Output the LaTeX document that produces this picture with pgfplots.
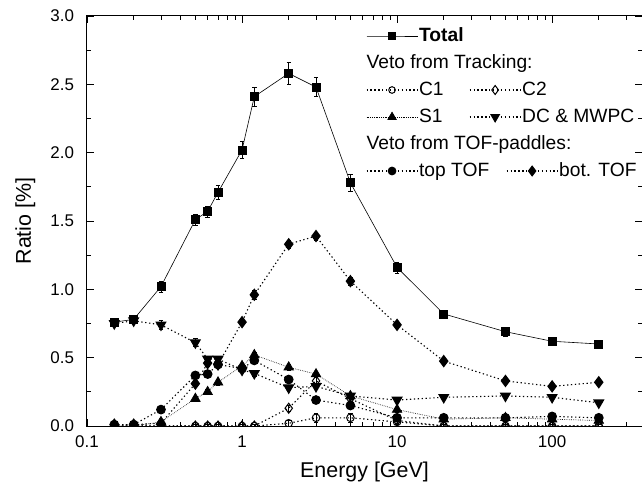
\documentclass[border=0pt]{standalone}
\usepackage{fontspec}
\setmainfont{Liberation Sans}
\usepackage{pgfplots}
\pgfplotsset{compat=1.18}
\usepackage{pgfplotstable}

\newcommand\legfont{\fontsize{19.3}{23}\selectfont}
\newcommand\tickfont{\fontsize{17}{20}\selectfont}
\newcommand\labfont{\fontsize{21.5}{25}\selectfont}

\pgfplotstableread{
x y e
0.15 0.76 0.03
0.2 0.78 0.03
0.3 1.02 0.04
0.5 1.51 0.04
0.6 1.57 0.04
0.7 1.71 0.05
1.0 2.02 0.06
1.2 2.41 0.07
2 2.58 0.08
3 2.48 0.07
5 1.78 0.06
10 1.16 0.04
20 0.82 0.03
50 0.69 0.03
100 0.62 0.02
200 0.60 0.02
}\tabTotal

\pgfplotstableread{
x y e
0.15 0.0 0.01
0.2 0.0 0.01
0.3 0.0 0.01
0.5 0.0 0.01
0.6 0.0 0.01
0.7 0.0 0.01
1.0 0.0 0.01
1.2 0.0 0.01
2 0.02 0.02
3 0.06 0.03
5 0.06 0.03
10 0.03 0.02
20 0.0 0.01
50 0.0 0.01
100 0.0 0.01
200 0.0 0.01
}\tabCone

\pgfplotstableread{
x y e
0.15 0.0 0.01
0.2 0.0 0.01
0.3 0.0 0.01
0.5 0.0 0.01
0.6 0.0 0.01
0.7 0.0 0.01
1.0 0.0 0.01
1.2 0.0 0.01
2 0.13 0.02
3 0.33 0.03
5 0.20 0.02
10 0.04 0.02
20 0.0 0.01
50 0.0 0.01
100 0.0 0.01
200 0.0 0.01
}\tabCtwo

\pgfplotstableread{
x y e
0.15 0.0 0.01
0.2 0.0 0.01
0.3 0.03 0.01
0.5 0.20 0.02
0.6 0.25 0.02
0.7 0.32 0.02
1.0 0.44 0.02
1.2 0.52 0.02
2 0.43 0.02
3 0.38 0.02
5 0.22 0.02
10 0.12 0.02
20 0.05 0.01
50 0.06 0.01
100 0.05 0.01
200 0.04 0.01
}\tabSone

\pgfplotstableread{
x y e
0.15 0.75 0.02
0.2 0.77 0.02
0.3 0.74 0.03
0.5 0.61 0.03
0.6 0.49 0.02
0.7 0.49 0.02
1.0 0.41 0.02
1.2 0.385 0.02
2 0.28 0.02
3 0.29 0.02
5 0.22 0.02
10 0.19 0.02
20 0.21 0.01
50 0.22 0.01
100 0.21 0.01
200 0.17 0.01
}\tabDC

\pgfplotstableread{
x y e
0.15 0.01 0.01
0.2 0.01 0.01
0.3 0.12 0.02
0.5 0.37 0.02
0.6 0.38 0.02
0.7 0.45 0.02
1.0 0.42 0.02
1.2 0.48 0.02
2 0.34 0.02
3 0.19 0.02
5 0.15 0.02
10 0.06 0.01
20 0.06 0.01
50 0.06 0.01
100 0.07 0.01
200 0.06 0.01
}\tabTop

\pgfplotstableread{
x y e
0.15 0.01 0.01
0.2 0.01 0.01
0.3 0.02 0.01
0.5 0.31 0.02
0.6 0.46 0.02
0.7 0.45 0.02
1.0 0.76 0.02
1.2 0.96 0.03
2 1.33 0.03
3 1.39 0.03
5 1.06 0.03
10 0.74 0.02
20 0.475 0.02
50 0.33 0.02
100 0.29 0.02
200 0.32 0.02
}\tabBot

\pgfplotsset{
  dotl/.style={line width=1.1bp, dash pattern=on 1.3bp off 2.6bp},
  finel/.style={line width=0.7bp, dash pattern=on 0.6bp off 1.2bp},
  eb/.style={error bars/.cd, y dir=both, y explicit,
     error bar style={solid, line width=0.6bp},
     error mark options={rotate=90, mark size=2.2bp, solid, line width=0.6bp}},
  hdrA/.style={legend image code/.code={\node[overlay,anchor=west,inner sep=0pt,text height=14bp,text depth=4bp,font=\legfont] at (0bp,0bp) {Veto from Tracking:};}},
  hdrB/.style={legend image code/.code={\node[overlay,anchor=west,inner sep=0pt,text height=14bp,text depth=4bp,font=\legfont] at (0bp,0bp) {Veto from TOF-paddles:};}},
  botleg/.style={legend image code/.code={\draw[overlay,mark repeat=2,mark phase=2,##1] plot coordinates {(37bp,0bp) (62.5bp,0bp) (88bp,0bp)};}},
}

\begin{document}
\begin{tikzpicture}
\begin{axis}[
  name=ax, at={(0,0)}, anchor=south west,
  scale only axis, width=555bp, height=410bp,
  clip marker paths=true,
  xmode=log, xmin=0.1, xmax=380, ymin=0, ymax=3,
  xtick={0.1,1,10,100}, xticklabels={0.1,1,10,100},
  minor xtick={0.2,0.3,0.4,0.5,0.6,0.7,0.8,0.9,2,3,4,5,6,7,8,9,20,30,40,50,60,70,80,90,200,300},
  ytick={0,0.5,1,1.5,2,2.5,3}, minor y tick num=1,
  tick label style={font=\tickfont},
  xticklabel style={yshift=-6bp},
  yticklabel style={xshift=-9.5bp, /pgf/number format/.cd,fixed,fixed zerofill,precision=1,assume math mode=true},
  major tick length=7bp, minor tick length=4bp,
  tick style={line width=0.8bp, black},
  axis line style={line width=1bp},
  xlabel={Energy [GeV]}, ylabel={Ratio [\%]},
  xlabel style={at={(axis description cs:0.5,-0.1244)}, anchor=base, font=\labfont},
  ylabel style={at={(axis description cs:-0.101,0.5)}, anchor=base, font=\labfont},
  legend columns=2, legend cell align=left,
  legend image code/.code={\draw[mark repeat=2,mark phase=2,#1] plot coordinates {(0bp,0bp) (25.5bp,0bp) (51bp,0bp)};},
  legend style={at={(0,1)}, anchor=north west, xshift=279bp, yshift=-11bp,
    draw=none, fill=none, inner sep=0pt, outer sep=0pt, row sep=9bp, column sep=0pt,
    nodes={inner sep=0pt, text height=14bp, text depth=4bp}, font=\legfont},
]
% C1
\addplot[forget plot, black, dotl, mark=o, mark size=3.8bp, mark options={solid, line width=1bp}, eb]
  table[x=x, y=y, y error=e] {\tabCone};
% C2
\addplot[forget plot, black, dotl, mark=diamond, mark size=5bp, mark options={solid, line width=1bp}, eb]
  table[x=x, y=y, y error=e] {\tabCtwo};
% S1
\addplot[forget plot, black, finel, mark=triangle*, mark size=5.5bp, mark options={solid}, eb]
  table[x=x, y=y, y error=e] {\tabSone};
% DC & MWPC
\addplot[forget plot, black, dotl, mark=triangle*, mark size=5.5bp, mark options={solid, rotate=180}, eb]
  table[x=x, y=y, y error=e] {\tabDC};
% top TOF
\addplot[forget plot, black, dotl, mark=*, mark size=4.3bp, mark options={solid}, eb]
  table[x=x, y=y, y error=e] {\tabTop};
% bot TOF
\addplot[forget plot, black, dotl, mark=diamond*, mark size=5.5bp, mark options={solid}, eb]
  table[x=x, y=y, y error=e] {\tabBot};
% Total
\addplot[forget plot, black, line width=0.6bp, mark=square*, mark size=4bp, mark options={solid}, eb]
  table[x=x, y=y, y error=e] {\tabTotal};

% legend
\addlegendimage{black, line width=0.6bp, mark=square*, mark size=3.4bp, mark options={solid}}
\addlegendentry{\makebox[51bp][l]{\hspace{1bp}\bfseries Total}}
\addlegendimage{empty legend}
\addlegendentry{}
\addlegendimage{hdrA}
\addlegendentry{}
\addlegendimage{empty legend}
\addlegendentry{}
\addlegendimage{black, dotl, mark=o, mark size=3.3bp, mark options={solid, line width=1bp}}
\addlegendentry{\makebox[51bp][l]{\hspace{1bp}C1}}
\addlegendimage{black, dotl, mark=diamond, mark size=4.5bp, mark options={solid, line width=1bp}}
\addlegendentry{\hspace{1bp}C2}
\addlegendimage{black, finel, mark=triangle*, mark size=4.8bp, mark options={solid}}
\addlegendentry{\makebox[51bp][l]{\hspace{1bp}S1}}
\addlegendimage{black, dotl, mark=triangle*, mark size=4.8bp, mark options={solid, rotate=180}}
\addlegendentry{\hspace{1bp}DC \& MWPC}
\addlegendimage{hdrB}
\addlegendentry{}
\addlegendimage{empty legend}
\addlegendentry{}
\addlegendimage{black, dotl, mark=*, mark size=3.8bp, mark options={solid}}
\addlegendentry{\makebox[51bp][l]{\hspace{1bp}top TOF}}
\addlegendimage{botleg, black, dotl, mark=diamond*, mark size=4.8bp, mark options={solid}}
\addlegendentry{\hspace*{38bp}bot. TOF}
\end{axis}
\pgfresetboundingbox
\path[use as bounding box] (-87bp,-62bp) rectangle (555bp,426bp);
\end{tikzpicture}
\end{document}
